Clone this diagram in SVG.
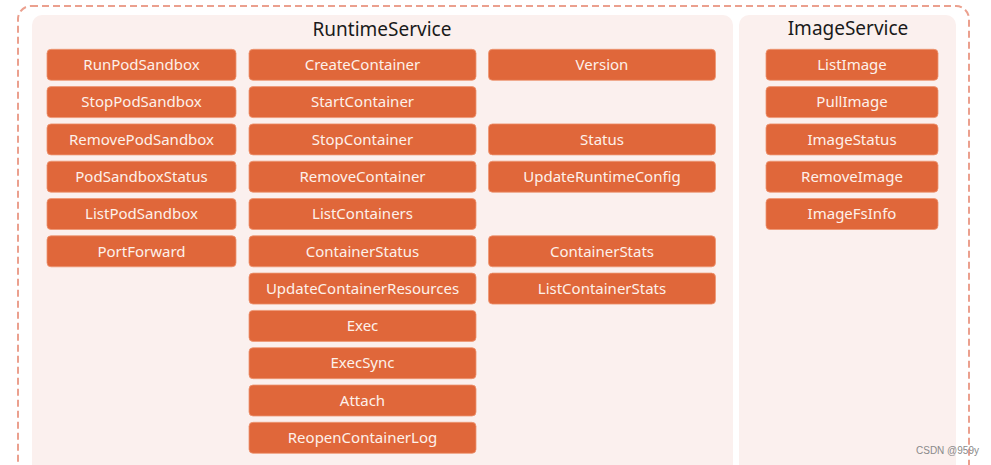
<svg xmlns="http://www.w3.org/2000/svg" width="991" height="465" viewBox="0 0 991 465">
<style>
.panel{fill:#FBF0EE}
.box rect{fill:#E0673A;stroke:#EE9672;stroke-width:0.8}
.box text{fill:#FDF1EA;font-family:"Noto Sans","Open Sans","DejaVu Sans",sans-serif;font-size:15px;text-anchor:middle}
.title{fill:#1a1a1a;font-family:"Noto Sans","Open Sans","DejaVu Sans",sans-serif;font-size:19px;text-anchor:middle}
</style>
<rect x="0" y="0" width="991" height="465" fill="#ffffff"/>
<rect x="18" y="6" width="951" height="480" rx="13" fill="none" stroke="#EBA08E" stroke-width="2" stroke-dasharray="7 4"/>
<g id="runtime-panel">
<rect class="panel" x="32" y="15" width="701" height="470" rx="10"/>
<text class="title" x="382" y="36">RuntimeService</text>
</g>
<g id="image-panel">
<rect class="panel" x="739" y="15" width="217" height="470" rx="10"/>
<text class="title" x="848" y="35">ImageService</text>
</g>
<g id="c1r0" class="box"><rect x="47" y="49.3" width="189" height="31" rx="4"/><text x="141.5" y="70">RunPodSandbox</text></g>
<g id="c1r1" class="box"><rect x="47" y="86.6" width="189" height="31" rx="4"/><text x="141.5" y="107.3">StopPodSandbox</text></g>
<g id="c1r2" class="box"><rect x="47" y="123.9" width="189" height="31" rx="4"/><text x="141.5" y="144.6">RemovePodSandbox</text></g>
<g id="c1r3" class="box"><rect x="47" y="161.2" width="189" height="31" rx="4"/><text x="141.5" y="181.9">PodSandboxStatus</text></g>
<g id="c1r4" class="box"><rect x="47" y="198.5" width="189" height="31" rx="4"/><text x="141.5" y="219.2">ListPodSandbox</text></g>
<g id="c1r5" class="box"><rect x="47" y="235.8" width="189" height="31" rx="4"/><text x="141.5" y="256.5">PortForward</text></g>
<g id="c2r0" class="box"><rect x="249" y="49.3" width="227" height="31" rx="4"/><text x="362.5" y="70">CreateContainer</text></g>
<g id="c2r1" class="box"><rect x="249" y="86.6" width="227" height="31" rx="4"/><text x="362.5" y="107.3">StartContainer</text></g>
<g id="c2r2" class="box"><rect x="249" y="123.9" width="227" height="31" rx="4"/><text x="362.5" y="144.6">StopContainer</text></g>
<g id="c2r3" class="box"><rect x="249" y="161.2" width="227" height="31" rx="4"/><text x="362.5" y="181.9">RemoveContainer</text></g>
<g id="c2r4" class="box"><rect x="249" y="198.5" width="227" height="31" rx="4"/><text x="362.5" y="219.2">ListContainers</text></g>
<g id="c2r5" class="box"><rect x="249" y="235.8" width="227" height="31" rx="4"/><text x="362.5" y="256.5">ContainerStatus</text></g>
<g id="c2r6" class="box"><rect x="249" y="273.1" width="227" height="31" rx="4"/><text x="362.5" y="293.8">UpdateContainerResources</text></g>
<g id="c2r7" class="box"><rect x="249" y="310.4" width="227" height="31" rx="4"/><text x="362.5" y="331.1">Exec</text></g>
<g id="c2r8" class="box"><rect x="249" y="347.7" width="227" height="31" rx="4"/><text x="362.5" y="368.4">ExecSync</text></g>
<g id="c2r9" class="box"><rect x="249" y="385" width="227" height="31" rx="4"/><text x="362.5" y="405.7">Attach</text></g>
<g id="c2r10" class="box"><rect x="249" y="422.3" width="227" height="31" rx="4"/><text x="362.5" y="443">ReopenContainerLog</text></g>
<g id="c3r0" class="box"><rect x="488.5" y="49.3" width="227" height="31" rx="4"/><text x="602" y="70">Version</text></g>
<g id="c3r2" class="box"><rect x="488.5" y="123.9" width="227" height="31" rx="4"/><text x="602" y="144.6">Status</text></g>
<g id="c3r3" class="box"><rect x="488.5" y="161.2" width="227" height="31" rx="4"/><text x="602" y="181.9">UpdateRuntimeConfig</text></g>
<g id="c3r5" class="box"><rect x="488.5" y="235.8" width="227" height="31" rx="4"/><text x="602" y="256.5">ContainerStats</text></g>
<g id="c3r6" class="box"><rect x="488.5" y="273.1" width="227" height="31" rx="4"/><text x="602" y="293.8">ListContainerStats</text></g>
<g id="c4r0" class="box"><rect x="766" y="49.3" width="172" height="31" rx="4"/><text x="852" y="70">ListImage</text></g>
<g id="c4r1" class="box"><rect x="766" y="86.6" width="172" height="31" rx="4"/><text x="852" y="107.3">PullImage</text></g>
<g id="c4r2" class="box"><rect x="766" y="123.9" width="172" height="31" rx="4"/><text x="852" y="144.6">ImageStatus</text></g>
<g id="c4r3" class="box"><rect x="766" y="161.2" width="172" height="31" rx="4"/><text x="852" y="181.9">RemoveImage</text></g>
<g id="c4r4" class="box"><rect x="766" y="198.5" width="172" height="31" rx="4"/><text x="852" y="219.2">ImageFsInfo</text></g>
<g id="connectors"/>
<text x="916" y="454" fill="#8a8a8a" font-family="'Liberation Sans',Arial,sans-serif" font-size="10">CSDN @959y</text>
</svg>
